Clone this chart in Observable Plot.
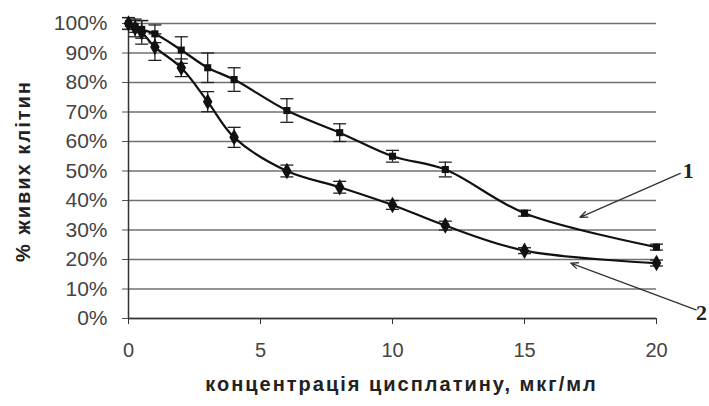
<!DOCTYPE html>
<html>
<head>
<meta charset="utf-8">
<script src="https://cdn.jsdelivr.net/npm/d3@7"></script>
<script src="https://cdn.jsdelivr.net/npm/@observablehq/plot@0.6"></script>
<style>
  html, body { margin: 0; padding: 0; background: #fff; }
</style>
</head>
<body>
<div id="chart"></div>
<script>
// Concentration of cisplatin, µg/ml
const conc = [0, 0.25, 0.5, 1, 2, 3, 4, 6, 8, 10, 12, 15, 20];
// Series 1 (upper curve), % living cells
const s1 = [100, 99, 98, 96.5, 91, 85, 81, 70.5, 63, 55, 50.5, 35.7, 24.2];
const s1err = [2, 2, 3, 3, 4.5, 5, 4, 4, 3, 2, 2.5, 1, 1];
// Series 2 (lower curve), % living cells
const s2 = [100, 98.5, 97, 92, 85, 73.5, 61.4, 50, 44.5, 38.5, 31.5, 23, 18.8];
const s2err = [2, 3, 4, 4.5, 3, 3.4, 3.4, 2, 2, 1.5, 1.5, 1, 1];

const yTicks = [0, 10, 20, 30, 40, 50, 60, 70, 80, 90, 100];
const xTicks = [0, 5, 10, 15, 20];

const xTitle = "концентрація цисплатину, мкг/мл";
const yTitle = "% живих клітин";

// Curve labels and pointer arrows
const labelText = ["1", "2"];
const labelX = [21.2, 21.7];
const labelY = [50, 1.8];
const arrowX1 = [20.9, 21.5];
const arrowY1 = [49.2, 2.9];
const arrowX2 = [17.1, 16.75];
const arrowY2 = [34.3, 18.8];

const rows1 = conc.map((x, i) => ({x, y: s1[i], e: s1err[i]}));
const rows2 = conc.map((x, i) => ({x, y: s2[i], e: s2err[i]}));
const allRows = rows1.concat(rows2);
const labels = labelText.map((t, i) => ({t, x: labelX[i], y: labelY[i]}));
const arrows = arrowX1.map((x1, i) => ({x1, y1: arrowY1[i], x2: arrowX2[i], y2: arrowY2[i]}));

const cap = {
  draw(ctx, size) {
    const r = Math.sqrt(size / Math.PI);
    ctx.moveTo(-r, 0);
    ctx.lineTo(r, 0);
  }
};

const chart = Plot.plot({
  width: 709,
  height: 406,
  marginLeft: 128,
  marginRight: 53,
  marginTop: 23,
  marginBottom: 88,
  style: {fontFamily: "'Liberation Sans', Arial, sans-serif", background: "#fff", overflow: "visible"},
  x: {domain: [0, 20]},
  y: {domain: [0, 100]},
  marks: [
    Plot.gridY(yTicks, {stroke: "#707070", strokeOpacity: 1, strokeWidth: 1.5}),
    Plot.axisY(yTicks, {
      tickFormat: d => d + "%",
      tickSize: 6,
      tickPadding: 15,
      fontSize: 21,
      stroke: "#555",
      fill: "#444",
      label: null
    }),
    Plot.axisX(xTicks, {
      tickSize: 6,
      tickPadding: 18,
      fontSize: 20,
      stroke: "#333",
      fill: "#444",
      label: null
    }),
    Plot.ruleX([0], {stroke: "#333", strokeWidth: 1.5}),
    Plot.ruleY([0], {stroke: "#333", strokeWidth: 1.5}),
    Plot.line(rows1, {x: "x", y: "y", curve: "catmull-rom", stroke: "#111", strokeWidth: 2.2}),
    Plot.line(rows2, {x: "x", y: "y", curve: "catmull-rom", stroke: "#111", strokeWidth: 2.2}),
    Plot.ruleX(allRows, {x: "x", y1: d => d.y - d.e, y2: d => d.y + d.e, stroke: "#222", strokeWidth: 1.3}),
    Plot.dot(allRows, {x: "x", y: d => d.y + d.e, symbol: cap, r: 6.5, stroke: "#222", strokeWidth: 1.3, fill: "none"}),
    Plot.dot(allRows, {x: "x", y: d => d.y - d.e, symbol: cap, r: 6.5, stroke: "#222", strokeWidth: 1.3, fill: "none"}),
    Plot.dot(rows1, {x: "x", y: "y", symbol: "square", r: 4, fill: "#111", stroke: "none"}),
    Plot.dot(rows2, {x: "x", y: "y", symbol: "diamond", r: 5, fill: "#111", stroke: "none"}),
    Plot.arrow(arrows, {x1: "x1", y1: "y1", x2: "x2", y2: "y2", stroke: "#333", strokeWidth: 1.3, headLength: 9, headAngle: 45}),
    Plot.text(labels, {x: "x", y: "y", text: "t", fontSize: 22, fontFamily: "'Liberation Serif', 'DejaVu Serif', serif", fontWeight: "bold", fill: "#222"}),
    Plot.text([xTitle], {frameAnchor: "bottom", textAnchor: "middle", dx: 9, dy: 72, fontSize: 20, fontWeight: "bold", fill: "#222", style: "letter-spacing: 2px"}),
    Plot.text([yTitle], {frameAnchor: "left", textAnchor: "middle", dx: -105, rotate: -90, fontSize: 20, fontWeight: "bold", fill: "#222"})
  ]
});
// letter spacing on the titles to match the wide reference lettering
d3.select(chart).selectAll("text").filter(function() {
  const t = this.textContent;
  return t === xTitle || t === yTitle;
}).attr("letter-spacing", "2px");
document.getElementById("chart").appendChild(chart);
</script>
</body>
</html>
